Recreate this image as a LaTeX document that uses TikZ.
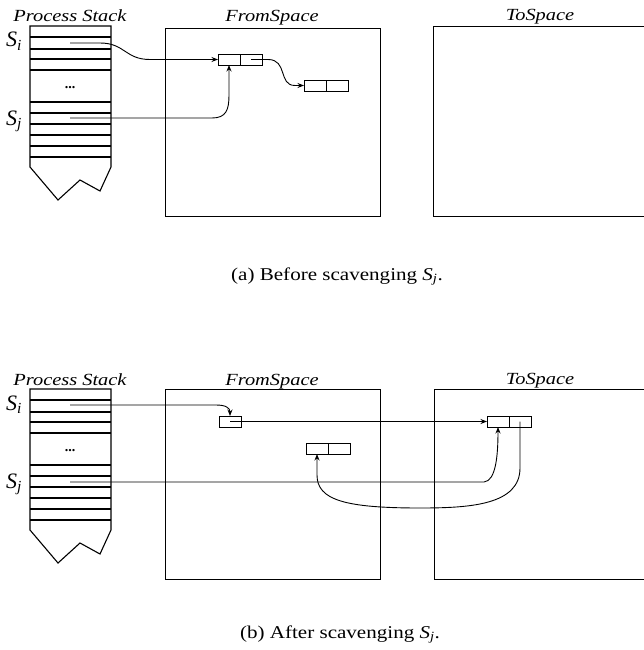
\documentclass[tikz,border=0pt]{standalone}
\usepackage{fontspec}
\setmainfont{Liberation Serif}
\newfontfamily\widefont[FakeStretch=1.2]{Liberation Serif}
\newfontfamily\capfont[FakeStretch=1.17]{Liberation Serif}
\usetikzlibrary{arrows.meta}
\tikzset{
  cell/.style={draw, line width=0.9pt, minimum width=22pt, minimum height=11pt, inner sep=0pt, outer sep=0pt},
  space/.style={draw, line width=0.9pt},
  ptr/.style={line width=0.9pt, -{Stealth[length=6.5pt,width=5pt]}},
  row/.style={line width=1.3pt},
  titletxt/.style={font=\widefont\fontsize{17}{19}\selectfont\itshape, anchor=base, inner sep=0pt},
  slab/.style={font=\fontsize{22}{24}\selectfont\itshape, anchor=base west, inner sep=0pt},
  captxt/.style={font=\capfont\fontsize{18}{20}\selectfont, anchor=base, inner sep=0pt},
  dotstxt/.style={font=\fontsize{14}{16}\selectfont\bfseries, inner sep=0pt}
}
\begin{document}
\begin{tikzpicture}[x=1pt,y=-1pt]
\useasboundingbox (0,0) rectangle (644,650);
% ---------- Panel (a) ----------
\node[titletxt] (psa) at (70,22) {Process Stack};
\node[titletxt] (fsa) at (272,22) {FromSpace};
\node[titletxt] (tsa) at (540,21) {ToSpace};
\draw[line width=1.1pt] (30,26) -- (111,26) -- (111,167) -- (100,191) -- (80,180) -- (58,200) -- (30,167) -- cycle;
\foreach \yy in {37,49,59,70,102,113,124,135,146,157} \draw[row] (30,\yy) -- (111,\yy);
\node[dotstxt] (dta) at (70,88) {...};
\node[slab] (sia) at (6,47) {S\textsubscript{i}};
\node[slab] (sja) at (6,125) {S\textsubscript{j}};
\draw[space] (165,28) rectangle (380,216);
\draw[space] (644,26) -- (433,26) -- (433,216) -- (644,216);
\node[cell] (a1l) at (229,59.5) {};
\node[cell] (a1r) at (251,59.5) {};
\node[cell] (a2l) at (315,85.5) {};
\node[cell] (a2r) at (337,85.5) {};
\coordinate (pia) at (70,43);
\coordinate (pja) at (70,118);
\draw[ptr] (pia) -- (100,43) .. controls (125,43) and (125,59.5) .. (150,59.5) -- (a1l.west);
\draw[ptr] (pja) -- (212,118) .. controls (226,118) and (229,110) .. (229,95) -- (a1l.south);
\draw[ptr] (a1r.center) -- (268,59.5) .. controls (288,59.5) and (278,85.5) .. (295,85.5) -- (a2l.west);
\node[captxt] (capa) at (337,280) {(a) Before scavenging \textit{S}\textsubscript{\textit{j}}.};
% ---------- Panel (b) ----------
\node[titletxt] (psb) at (70,385) {Process Stack};
\node[titletxt] (fsb) at (272,385) {FromSpace};
\node[titletxt] (tsb) at (540,384) {ToSpace};
\draw[line width=1.1pt] (30,389) -- (111,389) -- (111,530) -- (100,554) -- (80,543) -- (58,563) -- (30,530) -- cycle;
\foreach \yy in {400,412,422,433,465,476,487,498,509,520} \draw[row] (30,\yy) -- (111,\yy);
\node[dotstxt] (dtb) at (70,451) {...};
\node[slab] (sib) at (6,410) {S\textsubscript{i}};
\node[slab] (sjb) at (6,488) {S\textsubscript{j}};
\draw[space] (165,389) rectangle (380,579);
\draw[space] (644,389) -- (434,389) -- (434,579) -- (644,579);
\node[cell] (bfw) at (230,421.5) {};
\node[cell] (bol) at (317,448.5) {};
\node[cell] (bor) at (339,448.5) {};
\node[cell] (bnl) at (498,421.5) {};
\node[cell] (bnr) at (520,421.5) {};
\coordinate (pib) at (70,405);
\coordinate (pjb) at (70,482);
\draw[ptr] (pib) -- (216,405) .. controls (226,405) and (230,408) .. (bfw.north);
\draw[ptr] (bfw.center) -- (bnl.west);
\draw[ptr] (pjb) -- (484,482) .. controls (496,481) and (498,455) .. (bnl.south);
\draw[ptr] (bnr.center) -- (520,468) .. controls (520,505) and (470,508) .. (420,508) .. controls (345,508) and (317,500) .. (317,475) -- (bol.south);
\node[captxt] (capb) at (340,638) {(b) After scavenging \textit{S}\textsubscript{\textit{j}}.};
\end{tikzpicture}
\end{document}
